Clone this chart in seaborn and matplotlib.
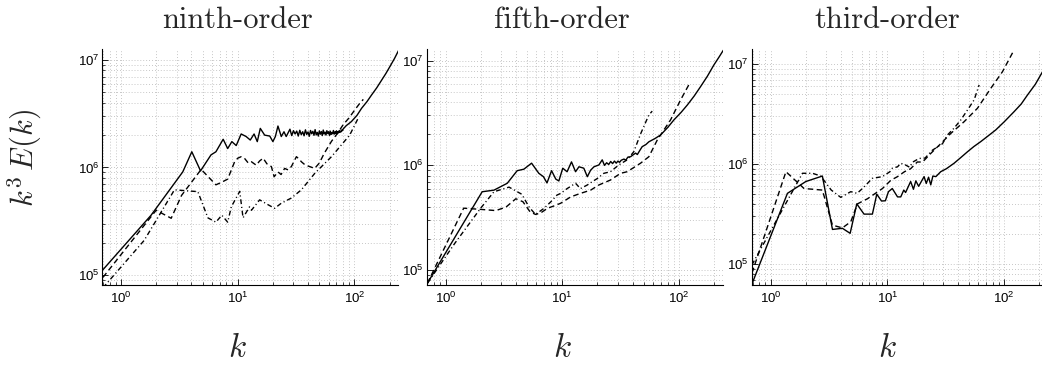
import numpy as np
import pandas as pd
import matplotlib
matplotlib.use("Agg")
import matplotlib.pyplot as plt
import matplotlib.ticker as mticker
import seaborn as sns

# ---------------- data ----------------
titles = ["ninth-order", "fifth-order", "third-order"]

# panel 1 : ninth-order
p1_solid_k = [0.70, 1.81, 3.38, 4.04, 4.8, 5.9, 6.5, 7.5, 8.2, 8.9, 9.7, 10.7, 11.8, 12.8,
              13.8, 14.7, 15.6, 17.0, 18.8, 20.0, 21.0, 22.1, 23.6, 24.9, 26.0, 27.0,
              28, 29, 30, 31, 32, 33, 34, 35, 36, 37, 38, 39, 40, 41, 42, 43, 44, 45, 46,
              47, 48, 49, 50, 51, 52, 53, 54, 55, 56, 57, 58, 59, 60, 61, 62, 63, 64, 65,
              66, 67, 68, 69, 70, 71, 72, 73, 74, 75, 76, 77, 78, 79, 80,
              85, 94, 105, 115, 128, 140, 155, 171, 186, 201, 220, 240]
p1_solid_E = [0.112, 0.36, 0.91, 1.40, 0.93, 1.31, 1.40, 1.83, 1.50, 1.74, 1.60, 2.05, 1.94, 1.80,
              2.05, 1.74, 2.31, 2.00, 1.96, 1.74, 1.94, 2.43, 1.94, 2.15, 1.94, 2.10,
              2.27, 1.98, 2.20, 2.05, 2.18, 1.96, 2.22, 2.02, 2.15, 1.97, 2.24, 2.03, 2.14,
              1.95, 2.21, 2.06, 2.17, 1.99, 2.25, 2.01, 2.12, 1.96, 2.19, 2.04, 2.16, 1.98,
              2.23, 2.05, 2.13, 2.00, 2.20, 2.07, 2.15, 1.99, 2.18, 2.03, 2.12, 2.06, 2.21,
              2.04, 2.14, 2.08, 2.19, 2.05, 2.16, 2.10, 2.20, 2.12, 2.18, 2.15, 2.24, 2.20, 2.28,
              2.45, 2.67, 3.05, 3.55, 4.10, 4.72, 5.50, 6.50, 7.50, 8.67, 10.3, 12.4]
p1_dash_k = [0.70, 2.0, 2.69, 3.3, 4.86, 6.5, 7.3, 8.2, 9.4, 10.0, 10.7, 11.4, 12.3, 13.1,
             14.4, 15.4, 16.5, 17.8, 19.4, 20.5, 22.1, 23.5, 25.2, 27.0, 28.8, 31.8, 33.5,
             35.1, 38.0, 41.3, 45.6, 50, 55, 63.5, 72, 80, 90, 100, 110, 119]
p1_dash_E = [0.095, 0.40, 0.337, 0.55, 0.96, 0.69, 0.73, 0.78, 1.13, 1.22, 1.26, 1.22, 1.10, 1.13,
             1.05, 1.15, 1.22, 1.08, 1.02, 0.82, 0.91, 0.86, 0.98, 0.95, 1.02, 1.26, 1.20,
             1.13, 1.05, 1.02, 0.98, 1.10, 1.35, 1.75, 2.10, 2.50, 2.90, 3.40, 3.90, 4.30]
p1_dd_k = [0.70, 1.58, 2.87, 4.55, 5.55, 6.5, 7.3, 8.2, 8.8, 10.4, 11.1, 12.6, 13.1, 15.4,
           18.2, 20.7, 23.6, 28.8, 35.1, 45.6, 63.5, 91, 108]
p1_dd_E = [0.076, 0.21, 0.62, 0.596, 0.34, 0.31, 0.36, 0.31, 0.43, 0.60, 0.34, 0.43, 0.40, 0.50,
           0.45, 0.417, 0.465, 0.52, 0.62, 0.88, 1.26, 2.00, 2.90]

# panel 2 : fifth-order
p2_solid_k = [0.70, 2.06, 2.6, 3.38, 4.11, 4.69, 5.46, 6.3, 6.9, 7.4, 8.1, 8.8, 9.35, 10.1,
              11.0, 12.0, 13.0, 13.9, 15.3, 16.4, 17.5, 18.7, 20.6, 22, 23, 24, 25, 26,
              27, 28, 29, 30, 31, 32, 33.8, 35, 36.5, 38.5, 40, 42.5, 44, 46, 48.4, 52,
              55.2, 62, 69.5, 80, 90.5, 104, 118, 135, 153, 175, 199, 220, 240]
p2_solid_E = [0.075, 0.56, 0.58, 0.675, 0.89, 0.92, 1.05, 0.84, 0.78, 0.68, 0.89, 0.74, 0.71, 0.94,
              0.87, 1.08, 0.87, 0.97, 0.94, 0.78, 0.90, 0.97, 1.01, 1.13, 1.00, 1.06, 1.02, 1.09,
              1.04, 1.10, 1.05, 1.10, 1.07, 1.12, 1.15, 1.12, 1.20, 1.21, 1.25, 1.31, 1.27, 1.38,
              1.51, 1.58, 1.68, 1.80, 1.95, 2.30, 2.72, 3.20, 3.78, 4.60, 5.65, 7.10, 9.10,
              10.8, 12.6]
p2_dash_k = [0.70, 1.43, 2.0, 2.7, 3.3, 4.0, 4.6, 5.3, 5.9, 6.5, 7.5, 8.5, 9.7, 11.8, 14.3,
             17.5, 20.6, 25.9, 31.6, 36, 46.9, 55.2, 65.2, 84.7, 103, 121.6]
p2_dash_E = [0.075, 0.39, 0.38, 0.37, 0.40, 0.48, 0.45, 0.36, 0.34, 0.35, 0.39, 0.41, 0.435,
             0.50, 0.54, 0.58, 0.65, 0.725, 0.84, 0.87, 1.05, 1.21, 1.75, 2.72, 4.20, 5.90]
p2_dd_k = [0.70, 1.2, 2.0, 2.6, 3.5, 4.5, 5.2, 5.9, 7.0, 8.0, 9.0, 9.7, 11.0, 13.0, 14.3,
           16.4, 18.1, 20, 22.7, 25.9, 30.5, 36, 41, 46.9, 55.2, 59]
p2_dd_E = [0.075, 0.18, 0.39, 0.56, 0.62, 0.53, 0.40, 0.34, 0.39, 0.45, 0.52, 0.54, 0.60,
           0.675, 0.60, 0.65, 0.70, 0.75, 0.84, 0.87, 1.01, 1.13, 1.35, 2.00, 3.03, 3.30]

# panel 3 : third-order
p3_solid_k = [0.69, 1.39, 2.0, 2.77, 3.38, 4.11, 4.79, 5.46, 6.3, 7.43, 8.1, 8.9, 9.6, 10.2,
              11.0, 12.2, 13.0, 13.8, 14.3, 15.8, 16.7, 17.5, 18.5, 20.6, 21.5, 22.5, 23.5,
              24.5, 26, 28.6, 32, 37.2, 42, 48.5, 55, 63, 73, 84.7, 100, 121.6, 140, 158,
              185, 213, 240]
p3_solid_E = [0.063, 0.51, 0.67, 0.76, 0.222, 0.228, 0.203, 0.40, 0.316, 0.316, 0.50, 0.427,
              0.43, 0.53, 0.57, 0.47, 0.47, 0.55, 0.52, 0.67, 0.56, 0.68, 0.60, 0.75, 0.64,
              0.74, 0.62, 0.76, 0.75, 0.84, 0.90, 1.02, 1.15, 1.33, 1.50, 1.68, 1.92, 2.20,
              2.65, 3.35, 4.00, 4.90, 6.30, 8.40, 10.8]
p3_dash_k = [0.69, 1.35, 1.93, 2.77, 3.38, 4.11, 4.85, 5.53, 6.74, 9.06, 10.7, 12.2, 14,
             15.8, 18, 20, 23.5, 28.6, 34.9, 45.4, 59, 76.8, 96.6, 121.6]
p3_dash_E = [0.081, 0.84, 0.57, 0.55, 0.245, 0.23, 0.265, 0.40, 0.45, 0.57, 0.69, 0.75, 0.84,
             0.90, 1.05, 1.05, 1.28, 1.60, 2.03, 2.66, 3.62, 5.74, 8.40, 13.9]
p3_dd_k = [0.69, 1.87, 2.28, 2.68, 3.3, 3.98, 4.85, 5.5, 6.3, 7.4, 9.06, 10.5, 11, 12.2, 13,
           14.3, 15.5, 16.5, 18.7, 21, 24.3, 29.6, 32.7, 37.2, 42.5, 48.5, 55.3, 61]
p3_dd_E = [0.098, 0.81, 0.81, 0.76, 0.55, 0.465, 0.53, 0.51, 0.59, 0.72, 0.75, 0.84, 0.91,
           0.94, 1.02, 0.98, 0.93, 1.05, 1.14, 1.15, 1.38, 1.60, 1.96, 2.29, 2.77, 3.48,
           4.40, 6.20]

y_limits = [(8.07e4, 1.265e7), (7.2e4, 1.294e7), (6.17e4, 1.42e7)]
x_limits = (0.687, 236)

panels = [
    [(p1_solid_k, p1_solid_E, "-"), (p1_dash_k, p1_dash_E, "--"), (p1_dd_k, p1_dd_E, "-.")],
    [(p2_solid_k, p2_solid_E, "-"), (p2_dash_k, p2_dash_E, "--"), (p2_dd_k, p2_dd_E, "-.")],
    [(p3_solid_k, p3_solid_E, "-"), (p3_dash_k, p3_dash_E, "--"), (p3_dd_k, p3_dd_E, "-.")],
]

# ---------------- style ----------------
sns.set_theme(style="white")
plt.rcParams["font.family"] = ["Liberation Sans", "DejaVu Sans"]
plt.rcParams["mathtext.fontset"] = "cm"

W, H = 1042, 367
fig = plt.figure(figsize=(W / 100, H / 100), dpi=100)

lefts = [102, 426.5, 751.7]
ax_w, ax_top, ax_bot = 296, 49, 285

ls_map = {"-": "-", "--": (0, (4, 2.5)), "-.": (0, (3.5, 2, 0.8, 2))}

for i, (left, lines) in enumerate(zip(lefts, panels)):
    ax = fig.add_axes([left / W, 1 - ax_bot / H, ax_w / W, (ax_bot - ax_top) / H])
    ax.set_xscale("log")
    ax.set_yscale("log")
    for k, E, ls in lines:
        df = pd.DataFrame({"k": k, "E": np.array(E) * 1e6})
        sns.lineplot(data=df, x="k", y="E", ax=ax, color="black", lw=1.0,
                     linestyle=ls_map[ls], estimator=None, sort=False)
    ax.set_xlim(*x_limits)
    ax.set_ylim(*y_limits[i])
    ax.set_xlabel("")
    ax.set_ylabel("")
    ax.xaxis.set_major_locator(mticker.FixedLocator([1, 10, 100]))
    ax.yaxis.set_major_locator(mticker.FixedLocator([1e5, 1e6, 1e7]))
    ax.xaxis.set_major_formatter(mticker.LogFormatterSciNotation())
    ax.yaxis.set_major_formatter(mticker.LogFormatterSciNotation())
    ax.xaxis.set_minor_locator(mticker.LogLocator(base=10, subs=np.arange(2, 10), numticks=20))
    ax.yaxis.set_minor_locator(mticker.LogLocator(base=10, subs=np.arange(2, 10), numticks=20))
    ax.xaxis.set_minor_formatter(mticker.NullFormatter())
    ax.yaxis.set_minor_formatter(mticker.NullFormatter())
    ax.grid(True, which="both", linestyle=(0, (1, 2.5)), color="#b4b4b4", linewidth=0.6)
    ax.set_axisbelow(True)
    for s in ["top", "right"]:
        ax.spines[s].set_visible(False)
    for s in ["left", "bottom"]:
        ax.spines[s].set_color("black")
        ax.spines[s].set_linewidth(0.8)
    ax.tick_params(which="major", direction="in", length=4, width=0.6, color="black",
                   labelsize=9.5, labelcolor="black", left=True, bottom=True)
    ax.tick_params(which="minor", direction="in", length=2, width=0.5, color="black",
                   left=True, bottom=True)
    ax.tick_params(axis="x", pad=4)
    ax.tick_params(axis="y", pad=2)
    cx = 0.458
    ax.text(cx, 1 + 21 / (ax_bot - ax_top), titles[i], transform=ax.transAxes,
            ha="center", va="baseline", fontsize=22, family="cmr10")
    fig.text((left + cx * ax_w) / W, 1 - 357 / H, r"$k$", ha="center", va="baseline",
             fontsize=24)

fig.text(25 / W, 1 - 158 / H, r"$k^3\,E(k)$", rotation=90, ha="center", va="center",
         fontsize=22)

fig.savefig("out.png", dpi=100)
